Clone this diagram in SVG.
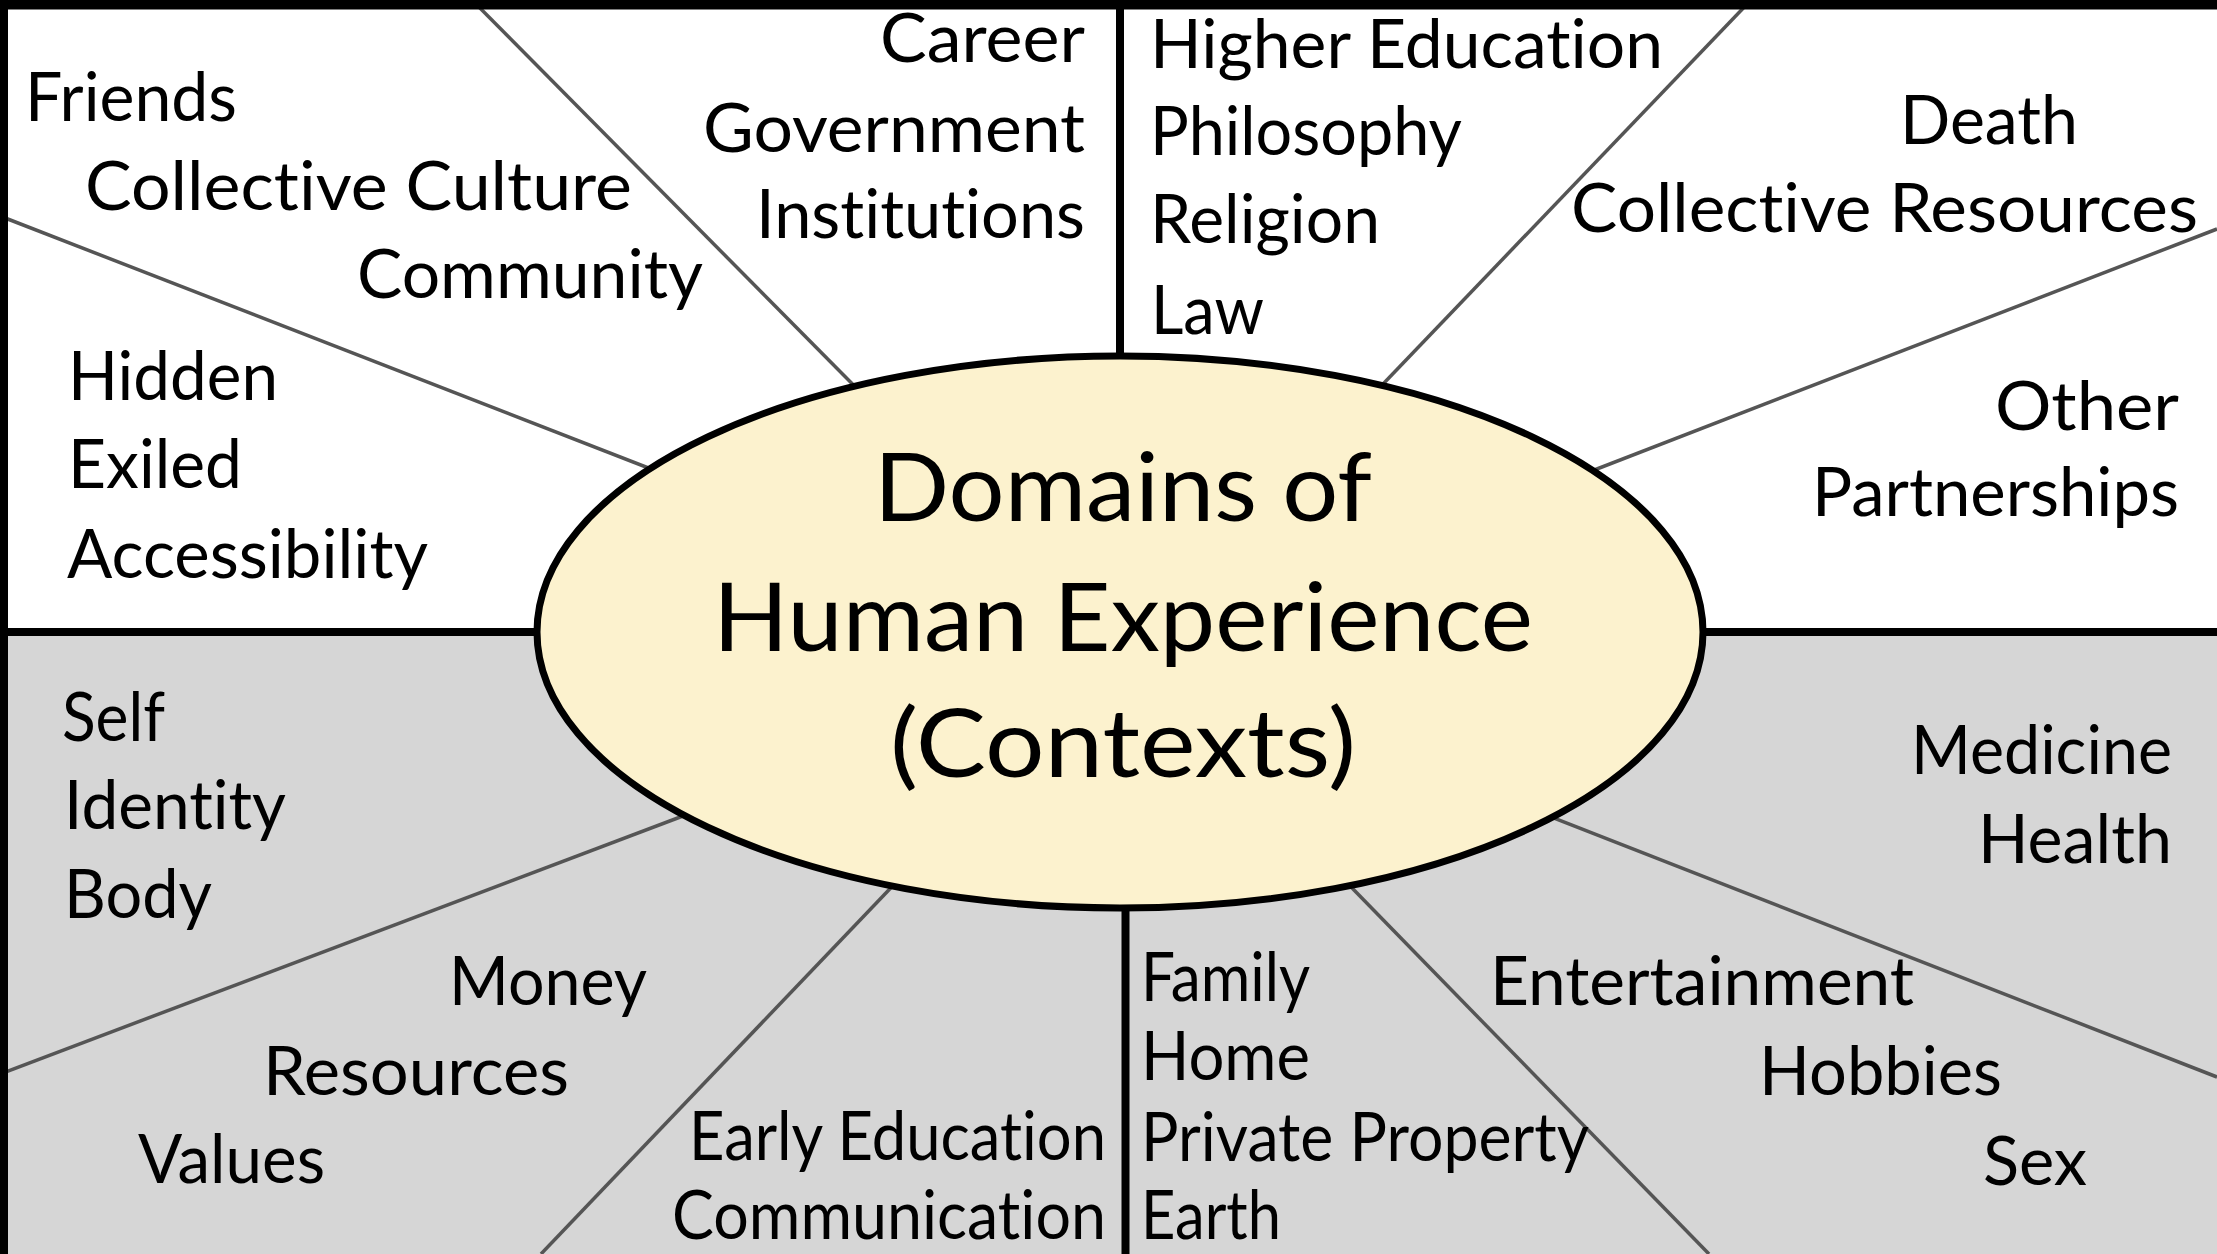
<svg xmlns="http://www.w3.org/2000/svg" width="2217" height="1254" viewBox="0 0 2217 1254">
<style>
.lbl{font-family:Lato,"Open Sans","Liberation Sans",sans-serif;font-size:67px;fill:#000;font-variant-ligatures:none;font-feature-settings:"liga" 0,"clig" 0}
.title{font-family:Lato,"Open Sans","Liberation Sans",sans-serif;font-size:95px;fill:#000;font-variant-ligatures:none;font-feature-settings:"liga" 0,"clig" 0}
.ray{stroke:#555;stroke-width:3.5;fill:none}
.div{stroke:#000;stroke-width:8;fill:none}
</style>
<rect id="bg-white" x="0" y="0" width="2217" height="1254" fill="#ffffff"/>
<rect id="bg-gray" x="0" y="632" width="2217" height="622" fill="#d6d6d6"/>
<g id="connectors">
<line class="ray" x1="472" y1="0" x2="900" y2="432"/>
<line class="ray" x1="0" y1="216" x2="700" y2="488"/>
<line class="ray" x1="1751" y1="0" x2="1339" y2="430"/>
<line class="ray" x1="2217" y1="229" x2="1540" y2="491"/>
<line class="ray" x1="0" y1="1074" x2="720" y2="802"/>
<line class="ray" x1="541" y1="1254" x2="927" y2="850"/>
<line class="ray" x1="1709" y1="1254" x2="1315" y2="850"/>
<line class="ray" x1="2217" y1="1077" x2="1500" y2="797"/>
<line class="div" x1="0" y1="632" x2="2217" y2="632"/>
<line class="div" x1="1120" y1="0" x2="1120" y2="632"/>
<line class="div" x1="1125.5" y1="632" x2="1125.5" y2="1254"/>
</g>
<g id="center-node">
<ellipse cx="1120" cy="632" rx="583" ry="276" fill="#fcf2ce" stroke="#000" stroke-width="7"/>
<text class="title" x="874" y="521" textLength="498" lengthAdjust="spacingAndGlyphs">Domains of</text>
<text class="title" x="713" y="651" textLength="820" lengthAdjust="spacingAndGlyphs">Human Experience</text>
<text class="title" x="890" y="777" textLength="466" lengthAdjust="spacingAndGlyphs">(Contexts)</text>
</g>
<g id="sector-social">
<text class="lbl" x="25" y="121" textLength="212" lengthAdjust="spacingAndGlyphs">Friends</text>
<text class="lbl" x="85" y="210" textLength="547" lengthAdjust="spacingAndGlyphs">Collective Culture</text>
<text class="lbl" x="357" y="298" textLength="346" lengthAdjust="spacingAndGlyphs">Community</text>
</g>
<g id="sector-career">
<text class="lbl" x="880" y="62" textLength="205" lengthAdjust="spacingAndGlyphs">Career</text>
<text class="lbl" x="703" y="152" textLength="382" lengthAdjust="spacingAndGlyphs">Government</text>
<text class="lbl" x="756" y="238" textLength="329" lengthAdjust="spacingAndGlyphs">Institutions</text>
</g>
<g id="sector-philosophy">
<text class="lbl" x="1150" y="68" textLength="513" lengthAdjust="spacingAndGlyphs">Higher Education</text>
<text class="lbl" x="1150" y="155" textLength="312" lengthAdjust="spacingAndGlyphs">Philosophy</text>
<text class="lbl" x="1150" y="243" textLength="230" lengthAdjust="spacingAndGlyphs">Religion</text>
<text class="lbl" x="1151" y="334" textLength="113" lengthAdjust="spacingAndGlyphs">Law</text>
</g>
<g id="sector-death">
<text class="lbl" x="1900" y="144" textLength="178" lengthAdjust="spacingAndGlyphs">Death</text>
<text class="lbl" x="1571" y="232" textLength="627" lengthAdjust="spacingAndGlyphs">Collective Resources</text>
</g>
<g id="sector-partnerships">
<text class="lbl" x="1995" y="430" textLength="184" lengthAdjust="spacingAndGlyphs">Other</text>
<text class="lbl" x="1812" y="516" textLength="367" lengthAdjust="spacingAndGlyphs">Partnerships</text>
</g>
<g id="sector-hidden">
<text class="lbl" x="68" y="400" textLength="210" lengthAdjust="spacingAndGlyphs">Hidden</text>
<text class="lbl" x="68" y="488" textLength="174" lengthAdjust="spacingAndGlyphs">Exiled</text>
<text class="lbl" x="67" y="578" textLength="361" lengthAdjust="spacingAndGlyphs">Accessibility</text>
</g>
<g id="sector-self">
<text class="lbl" x="62" y="741" textLength="103" lengthAdjust="spacingAndGlyphs">Self</text>
<text class="lbl" x="64" y="829" textLength="222" lengthAdjust="spacingAndGlyphs">Identity</text>
<text class="lbl" x="64" y="918" textLength="148" lengthAdjust="spacingAndGlyphs">Body</text>
</g>
<g id="sector-money">
<text class="lbl" x="449" y="1005" textLength="198" lengthAdjust="spacingAndGlyphs">Money</text>
<text class="lbl" x="263" y="1095" textLength="306" lengthAdjust="spacingAndGlyphs">Resources</text>
<text class="lbl" x="138" y="1183" textLength="187" lengthAdjust="spacingAndGlyphs">Values</text>
</g>
<g id="sector-communication">
<text class="lbl" x="689" y="1160" textLength="417" lengthAdjust="spacingAndGlyphs">Early Education</text>
<text class="lbl" x="672" y="1239" textLength="434" lengthAdjust="spacingAndGlyphs">Communication</text>
</g>
<g id="sector-family">
<text class="lbl" x="1141" y="1001" textLength="169" lengthAdjust="spacingAndGlyphs">Family</text>
<text class="lbl" x="1141" y="1080" textLength="169" lengthAdjust="spacingAndGlyphs">Home</text>
<text class="lbl" x="1141" y="1161" textLength="448" lengthAdjust="spacingAndGlyphs">Private Property</text>
<text class="lbl" x="1141" y="1239" textLength="140" lengthAdjust="spacingAndGlyphs">Earth</text>
</g>
<g id="sector-entertainment">
<text class="lbl" x="1490" y="1005" textLength="424" lengthAdjust="spacingAndGlyphs">Entertainment</text>
<text class="lbl" x="1759" y="1095" textLength="243" lengthAdjust="spacingAndGlyphs">Hobbies</text>
<text class="lbl" x="1983" y="1185" textLength="104" lengthAdjust="spacingAndGlyphs">Sex</text>
</g>
<g id="sector-health">
<text class="lbl" x="1911" y="774" textLength="261" lengthAdjust="spacingAndGlyphs">Medicine</text>
<text class="lbl" x="1978" y="863" textLength="194" lengthAdjust="spacingAndGlyphs">Health</text>
</g>
<g id="frame">
<rect x="0" y="0" width="2217" height="9.5" fill="#000"/>
<rect x="0" y="0" width="8" height="1254" fill="#000"/>
</g>
</svg>
